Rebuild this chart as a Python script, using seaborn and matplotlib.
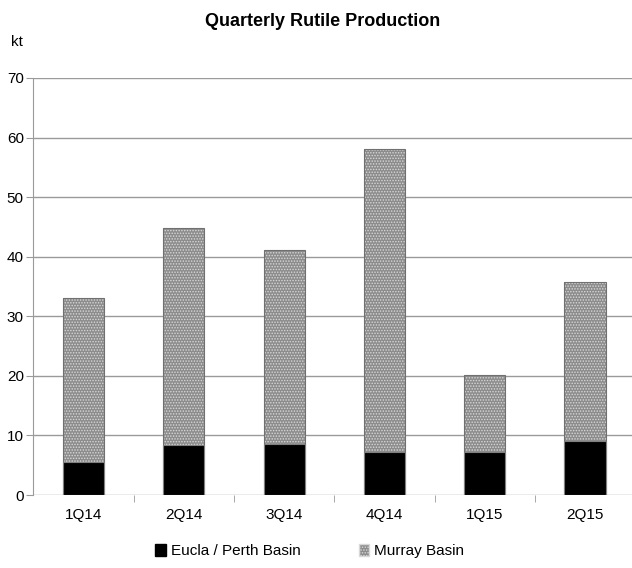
import numpy as np
import pandas as pd
import matplotlib
matplotlib.use('Agg')
import matplotlib.pyplot as plt
import seaborn as sns
from matplotlib.patches import Patch

# Data (kt)
quarters = ['1Q14', '2Q14', '3Q14', '4Q14', '1Q15', '2Q15']
eucla_perth = [5.5, 8.4, 8.6, 7.2, 7.3, 9.0]
murray = [27.6, 36.4, 32.5, 50.8, 12.9, 26.8]

df = pd.DataFrame({'Quarter': quarters, 'Eucla': eucla_perth, 'Murray': murray})
df['Total'] = df['Eucla'] + df['Murray']

sns.set_style('white')
plt.rcParams['font.family'] = ['Liberation Sans Narrow', 'Liberation Sans', 'DejaVu Sans']
plt.rcParams['text.color'] = 'black'
plt.rcParams['xtick.color'] = 'black'
plt.rcParams['ytick.color'] = 'black'
plt.rcParams['hatch.linewidth'] = 0.7

fig = plt.figure(figsize=(6.32, 5.68), dpi=100)
ax = fig.add_axes([0.053, 0.1285, 0.952, 0.7342])

# stacked: total (Murray on top) drawn first, Eucla overlaid from 0
sns.barplot(data=df, x='Quarter', y='Total', color='#8c8c8c', width=0.41,
            edgecolor='#d8d8d8', linewidth=0, hatch='......', ax=ax, zorder=2)
sns.barplot(data=df, x='Quarter', y='Total', fill=False, width=0.41,
            edgecolor='#707070', linewidth=0.8, ax=ax, zorder=3)
sns.barplot(data=df, x='Quarter', y='Eucla', color='black', width=0.41,
            edgecolor='#808080', linewidth=0.8, ax=ax, zorder=4)

ax.set_ylim(0, 70)
ax.set_yticks(range(0, 71, 10))
ax.set_xlim(-0.5, 5.5)
ax.yaxis.grid(True, color='#9a9a9a', linewidth=1)
ax.set_axisbelow(True)
for s in ['top', 'right', 'bottom']:
    ax.spines[s].set_visible(False)
ax.spines['left'].set_color('#9a9a9a')
ax.set_xlabel('')
ax.set_ylabel('')
ax.tick_params(axis='y', left=True, length=5, color='#9a9a9a', labelcolor='black',
               labelsize=11, pad=2)
ax.tick_params(axis='x', bottom=False, labelsize=11, labelcolor='black', pad=6)
# minor ticks between categories
ax.set_xticks(np.arange(0.5, 5.6, 1), minor=True)
ax.tick_params(axis='x', which='minor', bottom=True, length=5, color='#9a9a9a')

fig.text(0.51, 0.963, 'Quarterly Rutile Production', ha='center', va='center',
         fontsize=13, fontweight='bold', color='black')
fig.text(0.027, 0.926, 'kt', ha='center', va='center', fontsize=11, color='black')

handles = [Patch(facecolor='black', edgecolor='black', label='Eucla / Perth Basin'),
           Patch(facecolor='#8c8c8c', edgecolor='#d8d8d8', hatch='......', label='Murray Basin')]
fig.legend(handles=handles, loc='center', bbox_to_anchor=(0.49, 0.03), ncol=2,
           frameon=False, fontsize=11, handlelength=0.7, handleheight=0.9,
           handletextpad=0.3, columnspacing=3.8)

fig.savefig('out.png', dpi=100)
